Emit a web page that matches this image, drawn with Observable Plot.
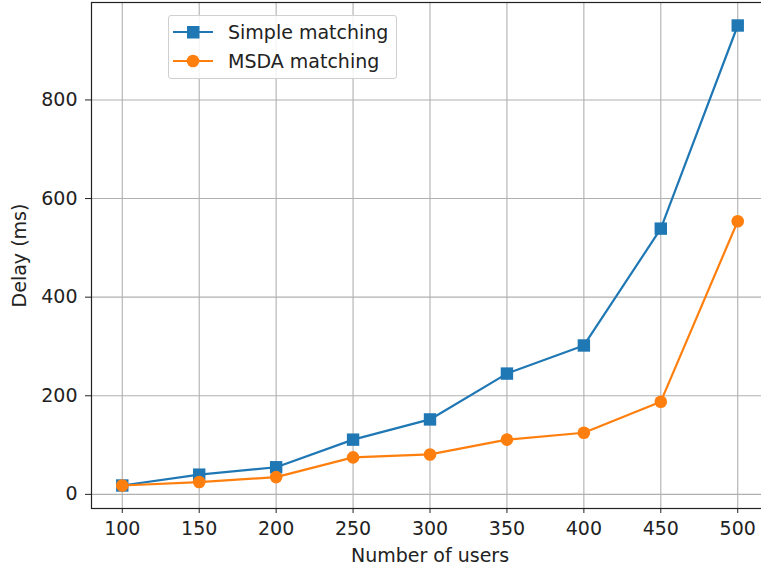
<!DOCTYPE html>
<html>
<head>
<meta charset="utf-8">
<script src="https://cdn.jsdelivr.net/npm/d3@7"></script>
<script src="https://cdn.jsdelivr.net/npm/@observablehq/plot@0.6"></script>
<style>
  html, body { margin: 0; padding: 0; background: #fff; }
  #wrap { position: relative; width: 761px; height: 569px; overflow: hidden; font-family: "DejaVu Sans", sans-serif; }
  #wrap svg.plot { overflow: hidden; max-width: none; }
  #legend { position: absolute; left: 168px; top: 15px; width: 227px; height: 62px;
            border: 1px solid #d0d0d0; border-radius: 3px; background: rgba(255,255,255,0.85);
            font-size: 19px; color: #222; }
  .item { position: absolute; left: 4px; height: 20px; display: flex; align-items: center; white-space: nowrap; }
  .item span { margin-left: 15px; }
</style>
</head>
<body>
<div id="wrap"></div>
<script>
const users = [100, 150, 200, 250, 300, 350, 400, 450, 500];
const simpleDelay = [18, 40, 55, 111, 152, 245, 302, 539, 951];
const msdaDelay = [18, 25, 35, 75, 81, 111, 125, 188, 554];
const xTicks = [100, 150, 200, 250, 300, 350, 400, 450, 500];
const yTicks = [0, 200, 400, 600, 800];
const seriesNames = ["Simple matching", "MSDA matching"];
const seriesColors = ["#1f77b4", "#ff7f0e"];

const simple = users.map((u, i) => ({users: u, delay: simpleDelay[i]}));
const msda = users.map((u, i) => ({users: u, delay: msdaDelay[i]}));

const chart = Plot.plot({
  width: 761,
  height: 569,
  marginLeft: 91,
  marginRight: -7,
  marginTop: 2,
  marginBottom: 61,
  style: {fontFamily: "DejaVu Sans, sans-serif", fontSize: "19px", color: "#222", background: "#fff"},
  x: {domain: [80, 520]},
  y: {domain: [-28.65, 997.65]},
  marks: [
    Plot.gridX(xTicks, {stroke: "#b0b0b0", strokeOpacity: 1, strokeWidth: 1.1}),
    Plot.gridY(yTicks, {stroke: "#b0b0b0", strokeOpacity: 1, strokeWidth: 1.1}),
    Plot.line(simple, {x: "users", y: "delay", stroke: seriesColors[0], strokeWidth: 2.2}),
    Plot.dot(simple, {x: "users", y: "delay", symbol: "square", r: 7, fill: seriesColors[0], stroke: "none"}),
    Plot.line(msda, {x: "users", y: "delay", stroke: seriesColors[1], strokeWidth: 2.2}),
    Plot.dot(msda, {x: "users", y: "delay", symbol: "circle", r: 6.3, fill: seriesColors[1], stroke: "none"}),
    Plot.frame({stroke: "#222", strokeWidth: 1.2}),
    Plot.axisX(xTicks, {tickSize: 5, tickPadding: 8, label: "Number of users", labelAnchor: "center", labelOffset: 53, labelArrow: "none"}),
    Plot.axisY(yTicks, {tickSize: 6, tickPadding: 8, label: "Delay (ms)", labelAnchor: "center", labelOffset: 79, labelArrow: "none"})
  ]
});

const wrap = document.getElementById("wrap");
wrap.appendChild(chart);

const legend = document.createElement("div");
legend.id = "legend";
const symbols = ["square", "circle"];
seriesNames.forEach((name, i) => {
  const item = document.createElement("div");
  item.className = "item";
  item.style.top = (i === 0 ? 6 : 35) + "px";
  const ns = "http://www.w3.org/2000/svg";
  const svg = document.createElementNS(ns, "svg");
  svg.setAttribute("width", 40); svg.setAttribute("height", 20);
  const line = document.createElementNS(ns, "line");
  line.setAttribute("x1", 0); line.setAttribute("x2", 40);
  line.setAttribute("y1", 10); line.setAttribute("y2", 10);
  line.setAttribute("stroke", seriesColors[i]); line.setAttribute("stroke-width", 2.2);
  svg.appendChild(line);
  if (symbols[i] === "square") {
    const r = document.createElementNS(ns, "rect");
    r.setAttribute("x", 14); r.setAttribute("y", 4); r.setAttribute("width", 12.5); r.setAttribute("height", 12.5);
    r.setAttribute("fill", seriesColors[i]);
    svg.appendChild(r);
  } else {
    const c = document.createElementNS(ns, "circle");
    c.setAttribute("cx", 20); c.setAttribute("cy", 10); c.setAttribute("r", 6.3);
    c.setAttribute("fill", seriesColors[i]);
    svg.appendChild(c);
  }
  item.appendChild(svg);
  const t = document.createElement("span");
  t.textContent = name;
  item.appendChild(t);
  legend.appendChild(item);
});
wrap.appendChild(legend);
</script>
</body>
</html>
